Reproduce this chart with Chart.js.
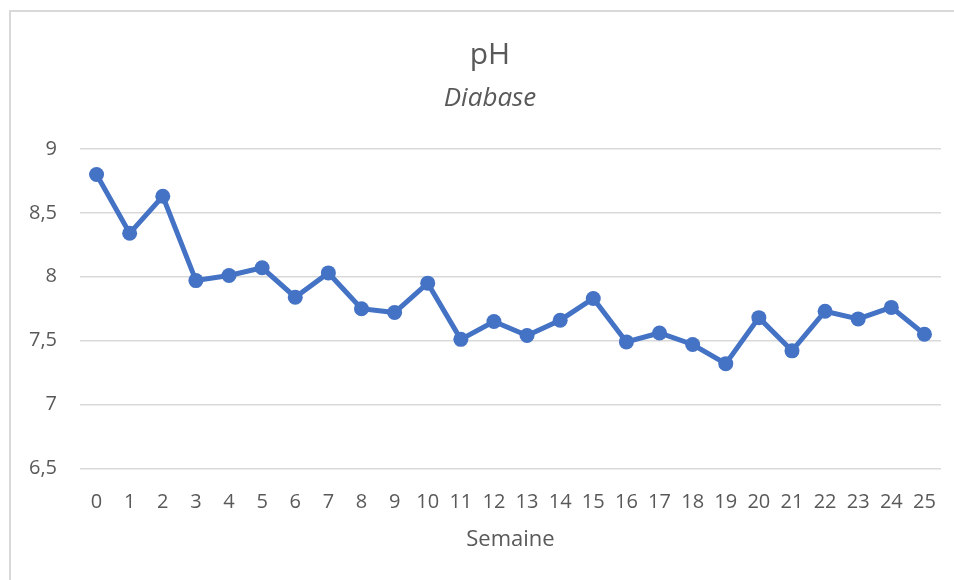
<!DOCTYPE html>
<html>
<head>
<meta charset="utf-8">
<title>pH - Diabase</title>
<script src="https://cdn.jsdelivr.net/npm/chart.js@4/dist/chart.umd.min.js"></script>
<style>
  html, body { margin: 0; padding: 0; background: #fff; overflow: hidden; }
  #frame {
    position: absolute; left: 9px; top: 10px; width: 1000px; height: 600px;
    border-left: 2px solid #d9d9d9; border-top: 2px solid #d9d9d9;
  }
  #chart-ph { position: absolute; left: 0; top: 0; }
</style>
</head>
<body>
<div id="frame"></div>
<canvas id="chart-ph" width="954" height="580"></canvas>
<script>
// semaines 0 à 25
const SEMAINES = [0, 1, 2, 3, 4, 5, 6, 7, 8, 9, 10, 11, 12, 13, 14, 15, 16, 17, 18, 19, 20, 21, 22, 23, 24, 25];

// pH mesuré chaque semaine
const PH_DIABASE = [8.80, 8.34, 8.63, 7.97, 8.01, 8.07, 7.84, 8.03, 7.75, 7.72,
                    7.95, 7.51, 7.65, 7.54, 7.66, 7.83, 7.49, 7.56, 7.47, 7.32,
                    7.68, 7.42, 7.73, 7.67, 7.76, 7.55];

const Y_MIN = 6.5;
const Y_MAX = 9;
const Y_STEP = 0.5;

const GRIS_TEXTE = '#595959';
const GRIS_GRILLE = '#d9d9d9';
const BLEU = '#4472C4';

// décale le titre et le sous-titre vers la droite (centrés sur 39..941)
const titleShift = {
    id: 'titleShift',
    afterLayout(chart) {
        chart.boxes.forEach((box) => {
            const txt = box.options && box.options.text;
            if (txt === 'pH' || txt === 'Diabase') {
                box.left = 39;
                box.width = box.right - box.left;
            }
        });
    }
};

const PH_CHART = {
    init() {
        this.buildChart();
    },

    buildChart() {
        const ctx = document.getElementById('chart-ph');

        const data = {
            labels: SEMAINES,
            datasets: [
              {
                label: 'pH',
                data: PH_DIABASE,
                borderColor: BLEU,
                backgroundColor: BLEU,
                borderWidth: 5,
                pointRadius: 7.5,
                pointBorderWidth: 0,
                pointBackgroundColor: BLEU,
                tension: 0,
              }
            ]
        };

        const config = {
            type: 'line',
            data: data,
            plugins: [titleShift],
            options: {
              responsive: false,
              animation: false,
              devicePixelRatio: 1,
              layout: {
                padding: { left: 0, right: 13, top: 0, bottom: 15 }
              },
              plugins: {
                legend: { display: false },
                tooltip: { enabled: false },
                title: {
                  display: true,
                  text: 'pH',
                  color: GRIS_TEXTE,
                  font: { family: 'Open Sans', size: 30, weight: 'normal' },
                  padding: { top: 37.5, bottom: 9.4 }
                },
                subtitle: {
                  display: true,
                  text: 'Diabase',
                  color: GRIS_TEXTE,
                  font: { family: 'Open Sans', size: 26, style: 'italic', weight: 'normal' },
                  padding: { top: 0, bottom: 34.9 }
                }
              },
              scales: {
                x: {
                  offset: true,
                  grid: { display: false, drawTicks: false },
                  border: { display: false },
                  ticks: {
                    color: GRIS_TEXTE,
                    font: { family: 'Open Sans', size: 20 },
                    padding: 21.7,
                    maxRotation: 0,
                    autoSkip: false
                  },
                  title: {
                    display: true,
                    text: 'Semaine',
                    color: GRIS_TEXTE,
                    font: { family: 'Open Sans', size: 22 },
                    padding: { top: -9.2, bottom: 12 }
                  },
                  afterFit(scale) {
                    // the outer labels fit inside the category offset
                    scale.paddingLeft = 0;
                    scale.paddingRight = 0;
                  }
                },
                y: {
                  min: Y_MIN,
                  max: Y_MAX,
                  grid: { color: GRIS_GRILLE, lineWidth: 1.5, drawTicks: false },
                  border: { display: false },
                  ticks: {
                    stepSize: Y_STEP,
                    color: GRIS_TEXTE,
                    font: { family: 'Open Sans', size: 20 },
                    padding: 23,
                    callback: (v) => String(v).replace('.', ',')
                  },
                  afterFit(scale) {
                    scale.width = 80;
                  }
                }
              }
            }
        };

        new Chart(ctx, config);
    }
};

PH_CHART.init();
</script>
</body>
</html>
